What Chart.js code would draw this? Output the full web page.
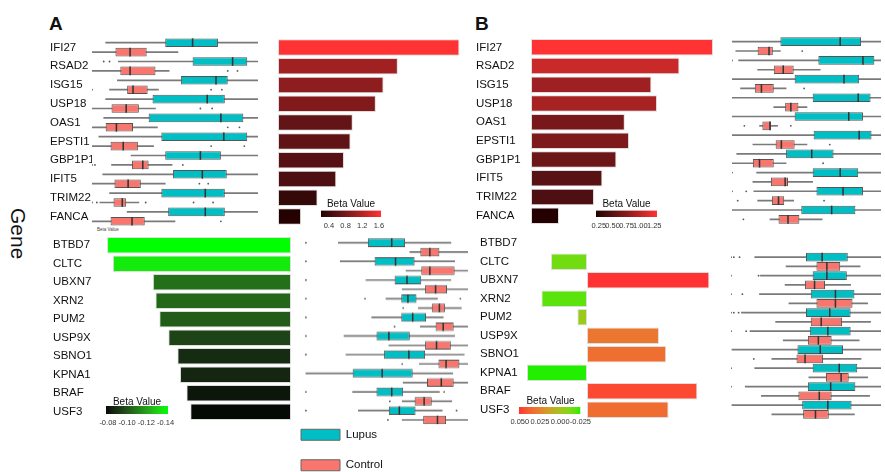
<!DOCTYPE html>
<html>
<head>
<meta charset="utf-8">
<script src="https://cdn.jsdelivr.net/npm/chart.js@4.4.1/dist/chart.umd.min.js"></script>
<style>
body { margin: 0; width: 885px; height: 472px; background: #fff; position: relative; overflow: hidden; font-family: "Liberation Sans", Arial, sans-serif; color: #111; }
.box { position: absolute; }
.tag { position: absolute; font-weight: bold; font-size: 19px; line-height: 1; }
.gene { position: absolute; left: 8px; top: 208px; font-size: 21px; line-height: 1; writing-mode: vertical-rl; }
.tiny { position: absolute; left: 97px; top: 227px; font-size: 4.5px; color: #444; }
</style>
</head>
<body>
<div class="tag" style="left:49px;top:14px">A</div>
<div class="tag" style="left:475px;top:14px">B</div>
<div class="gene">Gene</div>
<div class="tiny">Beta Value</div>

<div class="box" style="left:50px;top:26px;width:212px;height:212px"><canvas id="boxUpA"></canvas></div>
<div class="box" style="left:278px;top:26px;width:182px;height:212px"><canvas id="barUpA"></canvas></div>
<div class="box" style="left:309px;top:197px;width:84px;height:37px"><canvas id="keyUpA"></canvas></div>
<div class="box" style="left:53px;top:223.75px;width:238px;height:209px"><canvas id="barDownA"></canvas></div>
<div class="box" style="left:94px;top:396px;width:86px;height:35px"><canvas id="keyDownA"></canvas></div>
<div class="box" style="left:300px;top:226.2px;width:172px;height:209.6px"><canvas id="boxDownA"></canvas></div>
<div class="box" style="left:282px;top:410px;width:320px;height:100px"><canvas id="groups"></canvas></div>

<div class="box" style="left:476px;top:26px;width:239px;height:211px"><canvas id="barUpB"></canvas></div>
<div class="box" style="left:584px;top:197px;width:85px;height:37px"><canvas id="keyUpB"></canvas></div>
<div class="box" style="left:728px;top:25px;width:157px;height:211px"><canvas id="boxUpB"></canvas></div>
<div class="box" style="left:480px;top:222.25px;width:232px;height:209px"><canvas id="barDownB"></canvas></div>
<div class="box" style="left:507px;top:395px;width:87px;height:34px"><canvas id="keyDownB"></canvas></div>
<div class="box" style="left:727px;top:221.75px;width:158px;height:209px"><canvas id="boxDownB"></canvas></div>

<script>
// genes, top (up) and bottom (down) blocks
var genesUp = ['IFI27', 'RSAD2', 'ISG15', 'USP18', 'OAS1', 'EPSTI1', 'GBP1P1', 'IFIT5', 'TRIM22', 'FANCA'];
var genesDown = ['BTBD7', 'CLTC', 'UBXN7', 'XRN2', 'PUM2', 'USP9X', 'SBNO1', 'KPNA1', 'BRAF', 'USF3'];

// beta values
var betaUpA = [1.65, 1.09, 0.96, 0.89, 0.68, 0.66, 0.60, 0.53, 0.36, 0.21];
var betaDownA = [-0.1425, -0.138, -0.107, -0.105, -0.102, -0.095, -0.088, -0.086, -0.081, -0.078];
var betaUpB = [1.30, 1.06, 0.86, 0.90, 0.67, 0.70, 0.61, 0.51, 0.45, 0.20];
var betaDownB = [null, -0.015, 0.051, -0.019, -0.004, 0.030, 0.033, -0.025, 0.046, 0.034];

// colour key ticks
var ticksUpA = [0.4, 0.8, 1.2, 1.6];
var ticksDownA = [-0.08, -0.10, -0.12, -0.14];
var ticksUpB = [0.25, 0.50, 0.75, 1.00, 1.25];
var ticksDownB = [0.050, 0.025, 0.000, -0.025];

// expression boxes: [whisker low, q1, median, q3, whisker high]
var lupusUpA = [[1.4, 7.5, 10.3, 12.9, 17.0], [2.7, 10.3, 14.4, 15.9, 17.0], [2.6, 9.1, 12.7, 13.9, 17.0], [1.4, 6.2, 11.8, 13.6, 17.0], [1.2, 5.8, 13.2, 15.5, 17.0],
  [0.7, 7.1, 13.5, 15.9, 17.0], [4.0, 7.5, 11.1, 13.2, 17.0], [1.1, 8.3, 11.3, 13.8, 17.0], [1.8, 7.1, 11.6, 13.6, 17.0], [3.6, 7.8, 11.6, 13.6, 17.0]];
var controlUpA = [[0.0, 2.4, 3.9, 5.6, 8.8], [0.0, 2.9, 3.9, 6.5, 7.9], [1.8, 3.6, 4.2, 5.7, 6.8], [0.0, 2.0, 3.5, 4.8, 6.5], [0.0, 1.4, 2.5, 4.2, 6.7],
  [0.0, 1.9, 3.2, 4.7, 6.3], [2.0, 4.1, 5.2, 5.8, 8.2], [0.0, 2.3, 3.7, 5.0, 7.5], [0.8, 2.2, 3.1, 3.5, 4.8], [0.0, 1.9, 4.1, 5.4, 8.5]];
var lupusOutUpA = [[], [1.2, 1.8], [], [], [], [], [], [], [], []];
var controlOutUpA = [[], [13.9, 14.9], [0.0, 12.2, 13.3], [11.1, 12.3], [13.9, 15.1], [12.2, 15.6], [0.0, 0.3, 9.3], [11.0, 11.9], [0.0, 0.5, 5.5, 10.4, 12.4], [13.2]];

var lupusDownA = [[3.6, 6.7, 9.2, 10.6, 15.4], [3.8, 7.4, 9.6, 11.6, 15.8], [6.5, 9.5, 10.8, 12.3, 15.4], [8.6, 10.2, 10.9, 11.8, 14.0], [7.1, 10.2, 11.4, 12.8, 14.6],
  [4.2, 7.6, 8.9, 11.1, 15.8], [4.4, 8.4, 11.0, 12.7, 16.8], [0.2, 5.1, 8.2, 11.4, 15.6], [5.1, 7.6, 9.2, 10.4, 14.2], [5.7, 8.9, 10.0, 11.7, 14.5]];
var controlDownA = [[11.1, 12.2, 13.2, 14.2, 17.2], [10.7, 12.3, 13.2, 15.8, 17.2], [10.3, 12.7, 13.8, 15.0, 17.2], [12.0, 13.4, 14.2, 14.8, 16.5], [12.2, 13.8, 14.6, 15.7, 17.2],
  [8.9, 12.7, 13.9, 15.4, 17.2], [12.1, 14.1, 14.9, 16.3, 17.2], [10.4, 12.9, 14.4, 15.7, 17.2], [10.3, 11.6, 12.6, 13.4, 15.5], [10.3, 12.5, 14.0, 14.9, 17.2]];
var lupusOutDownA = [[0.2], [0.2], [0.2], [0.2, 6.4, 16.4], [0.2], [0.2], [0.2], [], [0.2, 14.7], [0.2, 16.0]];
var controlOutDownA = [[], [], [], [10.4], [9.5], [], [10.3], [], [9.0], [8.8]];

var lupusUpB = [[0.0, 5.1, 11.4, 13.6, 15.7], [0.7, 9.1, 13.8, 15.0, 15.7], [0.0, 6.6, 11.8, 13.4, 15.7], [0.0, 8.5, 13.3, 14.6, 15.7], [0.0, 6.6, 12.3, 13.8, 15.7],
  [0.0, 8.6, 13.4, 14.7, 15.7], [0.5, 5.7, 8.4, 10.7, 15.7], [2.6, 8.5, 11.4, 13.3, 15.7], [2.3, 8.9, 11.7, 13.8, 15.7], [0.0, 7.3, 10.5, 13.0, 15.7]];
var controlUpB = [[0.4, 2.7, 3.9, 4.3, 5.1], [2.7, 4.4, 5.4, 6.5, 9.3], [0.9, 2.4, 3.1, 4.4, 5.7], [4.4, 5.6, 6.2, 7.0, 7.9], [2.9, 3.2, 4.0, 4.1, 4.8],
  [2.2, 4.6, 5.2, 6.6, 7.9], [0.0, 2.2, 2.9, 4.4, 5.7], [2.2, 4.1, 5.6, 5.9, 8.5], [2.7, 4.2, 4.9, 5.5, 6.5], [4.0, 4.9, 5.9, 7.1, 9.5]];
var lupusOutUpB = [[], [0.0], [], [], [], [], [], [0.0], [0.0, 1.5], []];
var controlOutUpB = [[7.4], [], [7.6], [], [1.3, 6.2], [10.3], [9.6], [], [0.6, 9.7], [1.2]];

var lupusDownB = [null, [2.5, 7.9, 9.6, 12.3, 15.8], [3.1, 8.6, 10.1, 12.2, 15.8], [3.0, 8.4, 11.0, 13.0, 15.8], [1.1, 7.9, 10.4, 12.6, 15.8],
  [2.0, 8.3, 10.2, 12.6, 15.8], [0.1, 7.0, 9.4, 11.8, 15.8], [2.5, 8.6, 11.4, 13.3, 15.8], [1.5, 8.1, 10.5, 13.1, 15.8], [0.1, 7.5, 10.2, 12.7, 15.8]];
var controlDownB = [null, [5.8, 9.0, 10.1, 11.5, 13.6], [5.7, 7.8, 8.8, 9.9, 12.6], [6.1, 9.0, 11.0, 12.8, 14.4], [4.7, 8.4, 9.5, 11.7, 14.7],
  [5.5, 8.1, 9.2, 10.6, 13.5], [4.3, 6.9, 7.8, 9.7, 13.7], [8.2, 10.0, 11.6, 12.4, 14.4], [3.2, 7.1, 9.3, 10.6, 14.6], [4.3, 7.6, 8.9, 10.3, 13.0]];
var lupusOutDownB = [[], [0.0, 0.3, 0.9], [0.0, 2.9], [0.0, 1.2], [0.0, 0.3, 0.8], [0.0, 1.6], [], [0.0], [0.0], []];
var controlOutDownB = [[], [], [], [], [], [], [2.4], [], [], []];

var TEAL = '#00bfc4';
var SALMON = '#f8766d';

Chart.defaults.font.family = '"Liberation Sans", Arial, sans-serif';
Chart.defaults.color = '#111';
Chart.defaults.animation = false;
Chart.defaults.plugins.legend.display = false;
Chart.defaults.plugins.tooltip.enabled = false;

// colour ramps interpolated in CIELAB
function hexRgb(h) {
  return [parseInt(h.slice(1, 3), 16), parseInt(h.slice(3, 5), 16), parseInt(h.slice(5, 7), 16)];
}
function toLab(rgb) {
  var c = rgb.map(function (v) { v /= 255; return v <= 0.04045 ? v / 12.92 : Math.pow((v + 0.055) / 1.055, 2.4); });
  var X = (c[0] * 0.4124 + c[1] * 0.3576 + c[2] * 0.1805) / 0.95047;
  var Y = c[0] * 0.2126 + c[1] * 0.7152 + c[2] * 0.0722;
  var Z = (c[0] * 0.0193 + c[1] * 0.1192 + c[2] * 0.9505) / 1.08883;
  var f = function (t) { return t > 0.008856 ? Math.cbrt(t) : 7.787 * t + 16 / 116; };
  return [116 * f(Y) - 16, 500 * (f(X) - f(Y)), 200 * (f(Y) - f(Z))];
}
function fromLab(lab) {
  var fy = (lab[0] + 16) / 116, fx = fy + lab[1] / 500, fz = fy - lab[2] / 200;
  var inv = function (t) { return t * t * t > 0.008856 ? t * t * t : (t - 16 / 116) / 7.787; };
  var X = inv(fx) * 0.95047, Y = inv(fy), Z = inv(fz) * 1.08883;
  var rgb = [X * 3.2406 - Y * 1.5372 - Z * 0.4986, -X * 0.9689 + Y * 1.8758 + Z * 0.0415, X * 0.0557 - Y * 0.2040 + Z * 1.0570];
  return 'rgb(' + rgb.map(function (v) {
    v = v <= 0.0031308 ? 12.92 * v : 1.055 * Math.pow(v, 1 / 2.4) - 0.055;
    return Math.round(Math.max(0, Math.min(1, v)) * 255);
  }).join(',') + ')';
}
function ramp(stops, lo, hi) {
  var labs = stops.map(function (h) { return toLab(hexRgb(h)); });
  return function (v) {
    var t = Math.max(0, Math.min(1, (v - lo) / (hi - lo))) * (labs.length - 1);
    var i = Math.min(Math.floor(t), labs.length - 2), f = t - i;
    return fromLab(labs[i].map(function (a, k) { return a + (labs[i + 1][k] - a) * f; }));
  };
}
function range(arr) {
  var v = arr.filter(function (x) { return x !== null; });
  return [Math.min.apply(null, v), Math.max.apply(null, v)];
}

var rUpA = range(betaUpA), rDownA = range(betaDownA), rUpB = range(betaUpB), rDownB = range(betaDownB);
var colUpA = ramp(['#250000', '#ff3333'], rUpA[0], rUpA[1]);
var colDownA = ramp(['#00ff00', '#050a05'], rDownA[0], rDownA[1]);
var colUpB = ramp(['#250000', '#ff3333'], rUpB[0], rUpB[1]);
var colDownB = ramp(['#22ee00', '#a6c21e', '#e6802e', '#ff3333'], rDownB[0], rDownB[1]);

function geneAxis(width) {
  return {
    type: 'category', position: 'left', offset: true,
    grid: { display: false, drawTicks: false }, border: { display: false },
    ticks: { crossAlign: 'far', padding: 0, font: { size: 11.5 }, color: '#111' },
    afterFit: function (s) { s.width = width; }
  };
}

// beta value bars
function betaChart(id, genes, values, colour, xMin, xMax, labelWidth) {
  var y = labelWidth ? geneAxis(labelWidth) : { type: 'category', offset: true, display: false };
  new Chart(document.getElementById(id), {
    type: 'bar',
    data: {
      labels: genes,
      datasets: [{
        data: values,
        backgroundColor: values.map(function (v) { return v === null ? null : colour(v); }),
        borderColor: 'rgba(200,200,200,0.6)', borderWidth: 1, borderSkipped: false,
        barPercentage: 0.88, categoryPercentage: 1
      }]
    },
    options: {
      indexAxis: 'y', responsive: true, maintainAspectRatio: false,
      layout: { padding: { top: 12, bottom: 12 } },
      scales: { x: { type: 'linear', min: xMin, max: xMax, display: false }, y: y }
    }
  });
}

// lupus / control box plots, two rows per gene
function boxChart(id, genes, lupus, control, lupusOut, controlOut, xMax, labelWidth) {
  var rows = [], stats = [], fills = [], pts = [];
  genes.forEach(function (g, i) {
    rows.push(g + ' Lupus', g + ' Control');
    stats.push(lupus[i], control[i]);
    fills.push(TEAL, SALMON);
    (lupusOut[i] || []).forEach(function (v) { pts.push({ x: v, y: g + ' Lupus' }); });
    (controlOut[i] || []).forEach(function (v) { pts.push({ x: v, y: g + ' Control' }); });
  });
  var pick = function (fn) { return stats.map(function (s) { return s ? fn(s) : null; }); };
  var scales = {
    x: { type: 'linear', min: 0, max: xMax, display: false },
    y: { type: 'category', labels: rows, offset: true, display: false }
  };
  if (labelWidth) {
    scales.yg = geneAxis(labelWidth);
    scales.yg.labels = genes;
  }
  new Chart(document.getElementById(id), {
    type: 'bar',
    data: {
      labels: rows,
      datasets: [
        { data: pick(function (s) { return [s[2] - 0.08, s[2] + 0.08]; }), backgroundColor: '#333',
          barPercentage: 0.92, categoryPercentage: 1, grouped: false, order: 0, yAxisID: 'y' },
        { data: pick(function (s) { return [s[1], s[3]]; }), backgroundColor: fills, borderColor: '#555',
          borderWidth: 1, borderSkipped: false, barPercentage: 0.92, categoryPercentage: 1, grouped: false, order: 1, yAxisID: 'y' },
        { data: pick(function (s) { return [s[0], s[4]]; }), backgroundColor: '#7a7a7a',
          barThickness: 1, grouped: false, order: 2, yAxisID: 'y' },
        { type: 'scatter', data: pts, pointRadius: 0.9, pointBorderWidth: 0, pointBackgroundColor: '#555',
          order: 3, xAxisID: 'x', yAxisID: 'y' }
      ]
    },
    options: {
      indexAxis: 'y', responsive: true, maintainAspectRatio: false,
      layout: { padding: { top: 12, bottom: 12 } },
      scales: scales
    }
  });
}

// colour key: gradient bar with ticks
function keyChart(id, lo, hi, tickVals, decimals, reverse, colour, titlePad, tickPad) {
  new Chart(document.getElementById(id), {
    type: 'bar',
    data: {
      labels: ['Beta Value'],
      datasets: [{
        data: [[lo, hi]],
        barPercentage: 1, categoryPercentage: 1,
        backgroundColor: function (c) {
          var ca = c.chart.chartArea;
          if (!ca) return null;
          var xs = c.chart.scales.x;
          var g = c.chart.ctx.createLinearGradient(ca.left, 0, ca.right, 0);
          for (var k = 0; k <= 12; k++) {
            g.addColorStop(k / 12, colour(xs.getValueForPixel(ca.left + (ca.right - ca.left) * k / 12)));
          }
          return g;
        }
      }]
    },
    options: {
      indexAxis: 'y', responsive: true, maintainAspectRatio: false,
      layout: { padding: { left: 12, right: 12 } },
      plugins: {
        title: { display: true, text: 'Beta Value', font: { size: 10, weight: 'normal' }, color: '#111', padding: titlePad }
      },
      scales: {
        x: {
          type: 'linear', min: lo, max: hi, reverse: reverse,
          grid: { display: false, drawTicks: false }, border: { display: false },
          ticks: { font: { size: 7.5 }, color: '#333', padding: tickPad, autoSkip: false, maxRotation: 0,
            callback: function (v) { return Number(v).toFixed(decimals); } },
          afterBuildTicks: function (axis) { axis.ticks = tickVals.map(function (v) { return { value: v }; }); }
        },
        y: { display: false }
      }
    }
  });
}

// panel A
boxChart('boxUpA', genesUp, lupusUpA, controlUpA, lupusOutUpA, controlOutUpA, 17.0, 42);
betaChart('barUpA', genesUp, betaUpA, colUpA, 0, 1.655, 0);
keyChart('keyUpA', rUpA[0], rUpA[1], ticksUpA, 1, false, colUpA, { top: 1.5, bottom: 0 }, 4);
betaChart('barDownA', genesDown, betaDownA, colDownA, -0.1433, 0, 53);
keyChart('keyDownA', rDownA[0], rDownA[1], ticksDownA, 2, true, colDownA, { top: 0, bottom: -2 }, 4);
boxChart('boxDownA', genesDown, lupusDownA, controlDownA, lupusOutDownA, controlOutDownA, 17.2, 0);

// panel B
betaChart('barUpB', genesUp, betaUpB, colUpB, 0, 1.314, 55);
keyChart('keyUpB', rUpB[0], rUpB[1], ticksUpB, 2, false, colUpB, { top: 1.5, bottom: 0 }, 4);
boxChart('boxUpB', genesUp, lupusUpB, controlUpB, lupusOutUpB, controlOutUpB, 15.7, 0);
betaChart('barDownB', genesDown, betaDownB, colDownB, -0.025, 0.0521, 47);
keyChart('keyDownB', rDownB[0], rDownB[1], ticksDownB, 3, true, colDownB, { top: 0, bottom: 0 }, 3);
boxChart('boxDownB', genesDown, lupusDownB, controlDownB, lupusOutDownB, controlOutDownB, 15.8, 0);

// group key
new Chart(document.getElementById('groups'), {
  type: 'bar',
  data: {
    labels: [],
    datasets: [
      { label: 'Lupus', data: [], backgroundColor: TEAL, borderColor: '#666', borderWidth: 1 },
      { label: 'Control', data: [], backgroundColor: SALMON, borderColor: '#666', borderWidth: 1 }
    ]
  },
  options: {
    responsive: true, maintainAspectRatio: false,
    plugins: {
      legend: {
        display: true, position: 'left', align: 'start',
        labels: { boxWidth: 39, boxHeight: 11, padding: 19, font: { size: 11.5 }, color: '#111' }
      }
    },
    scales: { x: { display: false }, y: { display: false } }
  }
});
</script>
</body>
</html>
